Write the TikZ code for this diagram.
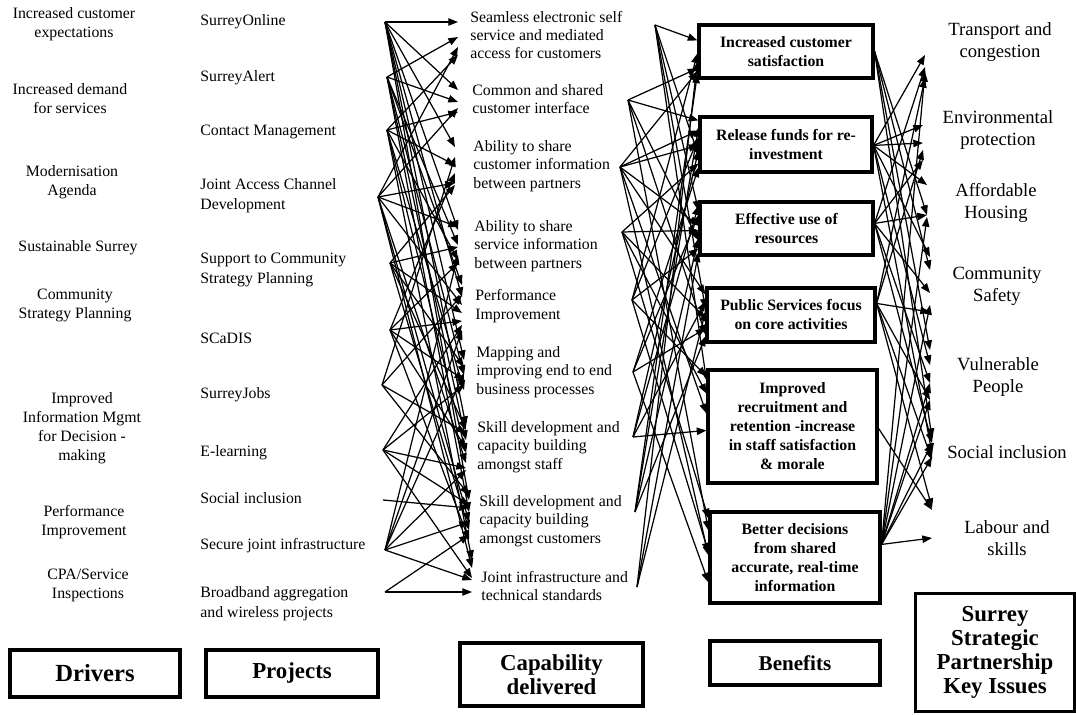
\documentclass[tikz,border=0pt]{standalone}
\usepackage{fontspec}
\setmainfont{Liberation Serif}
\usetikzlibrary{arrows.meta}
\begin{document}
\begin{tikzpicture}[x=0.02cm,y=-0.02cm,
  drv/.style={font=\fontsize{9}{10.8}\selectfont, align=center, inner sep=0pt},
  proj/.style={font=\fontsize{9}{11.3}\selectfont, align=left, inner sep=0pt, anchor=west},
  capab/.style={font=\fontsize{9}{10.5}\selectfont, align=left, inner sep=0pt, anchor=west},
  ben/.style={draw, line width=1.8pt, font=\bfseries\fontsize{9}{10.8}\selectfont, align=center, inner sep=0pt},
  issue/.style={font=\fontsize{10.6}{12.5}\selectfont, align=center, inner sep=0pt},
  colhead/.style={draw, line width=1.8pt, font=\bfseries\fontsize{13}{13.6}\selectfont, align=center, inner sep=0pt},
  arr/.style={line width=0.7pt, -{Triangle[length=5.5pt,width=4.2pt]}},
]
\useasboundingbox (0,0) rectangle (1076,715);

% ---------- Drivers ----------
\node[drv] (d1) at (74,24)  {Increased customer\\expectations};
\node[drv] (d2) at (70,99)  {Increased demand\\for services};
\node[drv] (d3) at (72,182) {Modernisation\\Agenda};
\node[drv] (d4) at (78,248) {Sustainable Surrey};
\node[drv] (d5) at (75,305) {Community\\Strategy Planning};
\node[drv] (d6) at (82,428) {Improved\\Information Mgmt\\for Decision -\\making};
\node[drv] (d7) at (84,522) {Performance\\Improvement};
\node[drv] (d8) at (88,585) {CPA/Service\\Inspections};

% ---------- Projects ----------
\node[proj] (q1)  at (200,22)  {SurreyOnline};
\node[proj] (q2)  at (200,78)  {SurreyAlert};
\node[proj] (q3)  at (200,132) {Contact Management};
\node[proj] (q4)  at (200,196) {Joint Access Channel\\Development};
\node[proj] (q5)  at (200,270) {Support to Community\\Strategy Planning};
\node[proj] (q6)  at (200,338) {SCaDIS};
\node[proj] (q7)  at (200,395) {SurreyJobs};
\node[proj] (q8)  at (200,453) {E-learning};
\node[proj] (q9)  at (200,498) {Social inclusion};
\node[proj] (q10) at (200,546) {Secure joint infrastructure};
\node[proj] (q11) at (200,604) {Broadband aggregation\\and wireless projects};

% ---------- Capability delivered ----------
\node[capab] (c1) at (470,35)  {Seamless electronic self\\service and mediated\\access for customers};
\node[capab] (c2) at (472,99)  {Common and shared\\customer interface};
\node[capab] (c3) at (473,166) {Ability to share\\customer information\\between partners};
\node[capab] (c4) at (474,246) {Ability to share\\service information\\between partners};
\node[capab] (c5) at (475,306) {Performance\\Improvement};
\node[capab] (c6) at (476,372) {Mapping and\\improving end to end\\business processes};
\node[capab] (c7) at (477,447) {Skill development and\\capacity building\\amongst staff};
\node[capab] (c8) at (479,521) {Skill development and\\capacity building\\amongst customers};
\node[capab] (c9) at (481,586) {Joint infrastructure and\\technical standards};

% ---------- Benefits ----------
\node[ben, minimum width=3.48cm, minimum height=1.06cm] (b1) at (786,51.5) {Increased customer\\satisfaction};
\node[ben, minimum width=3.44cm, minimum height=1.10cm] (b2) at (786,144.5) {Release funds for re-\\investment};
\node[ben, minimum width=3.46cm, minimum height=1.06cm] (b3) at (786.5,228.5) {Effective use of\\resources};
\node[ben, minimum width=3.36cm, minimum height=1.08cm] (b4) at (791,315) {Public Services focus\\on core activities};
\node[ben, minimum width=3.38cm, minimum height=2.26cm] (b5) at (792.5,426.5) {Improved\\recruitment and\\retention -increase\\in staff satisfaction\\\& morale};
\node[ben, minimum width=3.40cm, minimum height=1.82cm] (b6) at (795,557.5) {Better decisions\\from shared\\accurate, real-time\\information};

% ---------- Key issues ----------
\node[issue] (i1) at (1000,42)  {Transport and\\congestion};
\node[issue] (i2) at (998,130)  {Environmental\\protection};
\node[issue] (i3) at (996,203)  {Affordable\\Housing};
\node[issue] (i4) at (997,286)  {Community\\Safety};
\node[issue] (i5) at (998,377)  {Vulnerable\\People};
\node[issue] (i6) at (1007,452) {Social inclusion};
\node[issue] (i7) at (1007,538) {Labour and\\skills};

% ---------- Column headings ----------
\node[colhead, minimum width=3.40cm, minimum height=0.94cm] (h1) at (95,673.5)  {\fontsize{14}{15}\selectfont Drivers};
\node[colhead, minimum width=3.44cm, minimum height=0.94cm] (h2) at (292,673.5) {Projects};
\node[colhead, minimum width=3.66cm, minimum height=1.26cm] (h3) at (551.5,674.5) {Capability\\delivered};
\node[colhead, minimum width=3.40cm, minimum height=0.88cm] (h4) at (795,663)   {\fontsize{12}{13}\selectfont Benefits};
\node[colhead, minimum width=3.18cm, minimum height=2.36cm] (h5) at (995,652.5) {Surrey\\Strategic\\Partnership\\Key Issues};

% ---------- fan points of the projects ----------
\coordinate (p1) at (385,22);
\coordinate (p2) at (387,77);
\coordinate (p3) at (387,130);
\coordinate (p4) at (378,197);
\coordinate (p5) at (390,263);
\coordinate (p6) at (390,330);
\coordinate (p7) at (382,385);
\coordinate (p8) at (383,450);
\coordinate (p9) at (383,500);
\coordinate (p10) at (385,550);
\coordinate (p11) at (385,592);

% arrival points beside each capability
\coordinate (cp1) at (458,17);
\coordinate (cp2) at (458,88);
\coordinate (cp3) at (455,145);
\coordinate (cp4) at (458,225);
\coordinate (cp5) at (462,285);
\coordinate (cp6) at (464,345);
\coordinate (cp7) at (466,418);
\coordinate (cp8) at (469,490);
\coordinate (cp9) at (472,560);

% fan points of the capabilities
\coordinate (k1) at (655,25);
\coordinate (k2) at (628,100);
\coordinate (k3) at (620,167);
\coordinate (k4) at (622,232);
\coordinate (k5) at (632,300);
\coordinate (k6) at (633,372);
\coordinate (k7) at (633,437);
\coordinate (k8) at (635,512);
\coordinate (k9) at (637,587);

% arrival points beside each key issue
\coordinate (ip1) at (925,50);
\coordinate (ip2) at (923,125);
\coordinate (ip3) at (927,185);
\coordinate (ip4) at (930,255);
\coordinate (ip5) at (930,345);
\coordinate (ip6) at (932,438);
\coordinate (ip7) at (932,508);

% ---------- projects -> capabilities ----------
\foreach \s/\t/\d in {
  p1/cp1/5, p1/cp2/2, p1/cp3/2, p1/cp4/5, p1/cp5/12, p1/cp6/15, p1/cp7/8, p1/cp8/10,
  p2/cp1/20, p2/cp2/14, p2/cp4/20, p2/cp5/0, p2/cp6/30, p2/cp7/22, p2/cp8/22,
  p3/cp1/38, p3/cp2/24, p3/cp3/20, p3/cp4/35, p3/cp6/45, p3/cp7/35, p3/cp9/0,
  p4/cp1/30, p4/cp2/20, p4/cp3/38, p4/cp4/2, p4/cp5/20, p4/cp7/45, p4/cp8/32, p4/cp9/8,
  p5/cp3/40, p5/cp4/22, p5/cp5/28, p5/cp6/22, p5/cp7/12, p5/cp8/40,
  p6/cp3/28, p6/cp4/38, p6/cp5/36, p6/cp6/35, p6/cp7/30, p6/cp8/50,
  p7/cp3/12, p7/cp5/10, p7/cp7/15, p7/cp8/5,
  p8/cp5/40, p8/cp6/40, p8/cp7/50, p8/cp8/15, p8/cp9/18,
  p9/cp8/18,
  p10/cp4/30, p10/cp5/45, p10/cp6/28, p10/cp7/52, p10/cp8/32, p10/cp9/20,
  p11/cp8/45, p11/cp9/32}
  \draw[arr] (\s) -- ([shift={(0,\d)}]\t);

% ---------- capabilities -> benefits ----------
\foreach \s/\t/\d in {
  k1/b1/17, k1/b2/40, k1/b3/10, k1/b4/22, k1/b5/12,
  k2/b1/45, k2/b2/5, k2/b3/40, k2/b4/48, k2/b6/20,
  k3/b1/48, k3/b2/15, k3/b2/30, k3/b3/25, k3/b4/8, k3/b5/45, k3/b6/45,
  k4/b2/48, k4/b3/30, k4/b4/32, k4/b5/25, k4/b6/8,
  k5/b1/30, k5/b2/22, k5/b3/48, k5/b5/8, k5/b6/42,
  k6/b2/52, k6/b3/15, k6/b4/42, k6/b6/72,
  k7/b5/62, k7/b2/35, k7/b3/5, k7/b4/15,
  k8/b3/38, k8/b4/50, k8/b2/12, k8/b1/50,
  k9/b4/25, k9/b3/52, k9/b1/38}
  \draw[arr] (\s) -- ([shift={(0,\d)}]\t.north west);

% ---------- benefits -> key issues ----------
\foreach \s/\a/\t/\d in {
  b1/28/ip3/30, b1/28/ip4/15, b1/28/ip5/5, b1/28/ip6/0,
  b2/30/ip1/5, b2/30/ip2/0, b2/30/ip2/18, b2/30/ip3/0, b2/30/ip4/2, b2/30/ip5/20, b2/30/ip6/15,
  b3/23/ip1/17, b3/23/ip2/35, b3/23/ip3/30, b3/23/ip4/38, b3/23/ip5/38, b3/23/ip6/5,
  b4/17/ip1/28, b4/17/ip2/25, b4/17/ip4/57, b4/17/ip5/55, b4/17/ip6/22, b4/17/ip7/0,
  b5/60/ip7/2,
  b6/34/ip7/30, b6/34/ip6/19, b6/34/ip6/5, b6/34/ip5/55, b6/34/ip5/38, b6/34/ip4/50,
  b6/34/ip3/32, b6/34/ip1/22}
  \draw[arr] ([shift={(0,\a)}]\s.north east) -- ([shift={(0,\d)}]\t);
\end{tikzpicture}
\end{document}
